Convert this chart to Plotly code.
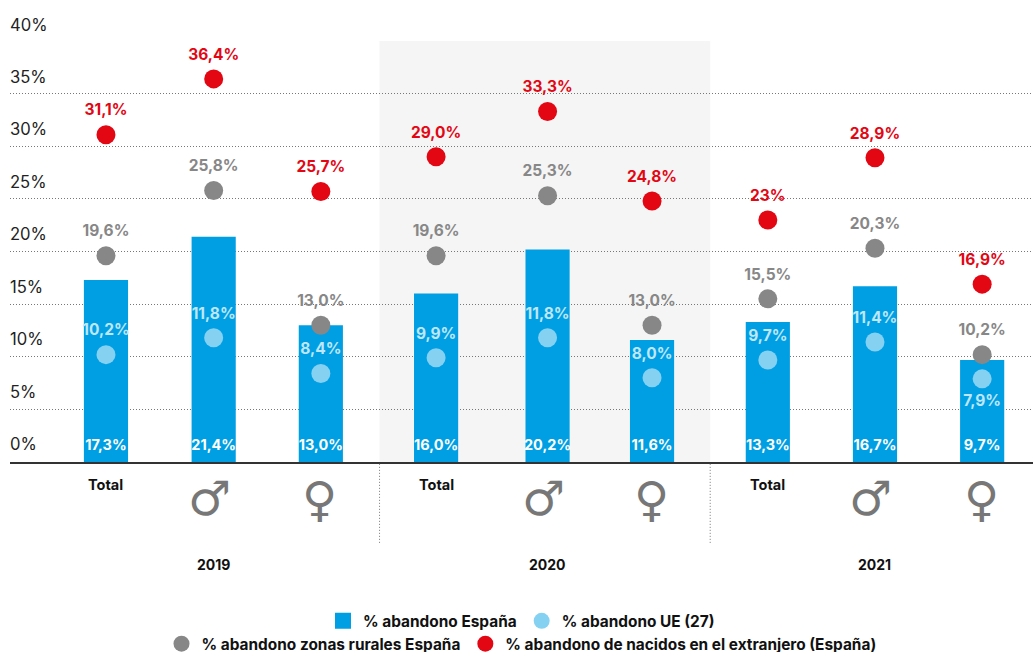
import plotly.graph_objects as go

CATS = ["Total", "♂", "♀"] * 3
YEARS = ["2019", "2020", "2021"]
ESPANA = [17.3, 21.4, 13.0, 16.0, 20.2, 11.6, 13.3, 16.7, 9.7]
UE = [10.2, 11.8, 8.4, 9.9, 11.8, 8.0, 9.7, 11.4, 7.9]
RURAL = [19.6, 25.8, 13.0, 19.6, 25.3, 13.0, 15.5, 20.3, 10.2]
EXTRANJERO = [31.1, 36.4, 25.7, 29.0, 33.3, 24.8, 23.0, 28.9, 16.9]
EXTRANJERO_LABELS = ["31,1%", "36,4%", "25,7%", "29,0%", "33,3%", "24,8%", "23%", "28,9%", "16,9%"]
YTICKS = [0, 5, 10, 15, 20, 25, 30, 35, 40]

FONT = "Inter, Roboto, sans-serif"
BLUE, LIGHT, GREY, RED = "#009FE3", "#85D1F2", "#878787", "#E30613"
XPOS = [0, 1, 1.995, 3.065, 4.1, 5.07, 6.145, 7.14, 8.135]
GROUP_EDGES = [2.54, 5.61]
CENTERS = [XPOS[1], XPOS[4], XPOS[7]]


def fmt(v):
    return f"{v:.1f}".replace(".", ",") + "%"


def labels_only(values, labels, font_color, size, gap, positions="top center"):
    # transparent markers set the distance between the point and its label
    fig.add_trace(go.Scatter(
        x=XPOS, y=values, mode="markers+text", showlegend=False, hoverinfo="skip",
        marker=dict(color="rgba(0,0,0,0)", size=gap, line_width=0),
        text=labels, textposition=positions,
        textfont=dict(family=FONT, size=size, color=font_color, weight="bold"),
        cliponaxis=False,
    ))


def points(name, values, color, labels, font_color, legend, positions="top center"):
    fig.add_trace(go.Scatter(
        x=XPOS, y=values, name=name, mode="markers",
        marker=dict(color=color, size=19, line_width=0),
        cliponaxis=False, legend=legend,
    ))
    labels_only(values, labels, font_color, 15.5, 23, positions)


fig = go.Figure()
fig.add_trace(go.Bar(
    x=XPOS, y=ESPANA, width=0.41, marker_color=BLUE, marker_line_width=0,
    showlegend=False,
))
fig.add_trace(go.Scatter(
    x=[None], y=[None], name="% abandono España", mode="markers",
    marker=dict(color=BLUE, symbol="square", size=16), legend="legend",
))
points("% abandono UE (27)", UE, LIGHT, [fmt(v) for v in UE], "#BFE7F9", "legend",
       ["top center"] * 8 + ["bottom center"])
points("% abandono zonas rurales España", RURAL, GREY, [fmt(v) for v in RURAL], GREY, "legend2")
points("% abandono de nacidos en el extranjero (España)", EXTRANJERO, RED, EXTRANJERO_LABELS, RED, "legend2")
labels_only([0] * len(ESPANA), [fmt(v) for v in ESPANA], "white", 14.5, 12)

shapes = [dict(type="rect", xref="x", yref="paper", x0=GROUP_EDGES[0], x1=GROUP_EDGES[1], y0=0, y1=1,
               fillcolor="#F5F5F5", line_width=0, layer="below")]
for e in GROUP_EDGES:
    shapes.append(dict(type="line", xref="x", yref="paper", x0=e, x1=e, y0=-0.192, y1=0,
                       line=dict(color="#777777", width=1, dash="1px,2px")))

ann = []
for v in YTICKS:
    ann.append(dict(x=0, y=v, xref="paper", yref="y", text=f"{v}%", showarrow=False,
                    xanchor="left", yanchor="middle", xshift=-2, yshift=18 - 0.04 * v,
                    font=dict(family=FONT, size=16.6, color="#222222")))
for x, c in zip(XPOS, CATS):
    if c == "Total":
        ann.append(dict(x=x, y=-0.053, xref="x", yref="paper", text=c, showarrow=False, yanchor="middle",
                        font=dict(family=FONT, size=14.5, color="#111111", weight="bold")))
    else:
        ann.append(dict(x=x, y=-0.09, xref="x", yref="paper", text=c, showarrow=False, yanchor="middle",
                        xshift=-4 if c == "♂" else -1, yshift=2 if c == "♂" else 1,
                        font=dict(family="DejaVu Sans", size=48, color="#777777")))
for x, yr in zip(CENTERS, YEARS):
    ann.append(dict(x=x, y=-0.243, xref="x", yref="paper", text=yr, showarrow=False, yanchor="middle",
                    font=dict(family=FONT, size=14, color="#111111", weight="bold")))
legend_common = dict(orientation="h", xref="paper", yref="container", xanchor="center", yanchor="middle",
                     font=dict(family=FONT, size=15.4, color="#111111", weight="bold"),
                     bgcolor="rgba(0,0,0,0)", itemclick=False, itemdoubleclick=False,
                     itemwidth=30, tracegroupgap=0)

fig.update_layout(
    width=1033, height=652, autosize=False,
    margin=dict(l=10, r=0, t=40.5, b=190),
    paper_bgcolor="white", plot_bgcolor="rgba(0,0,0,0)",
    barmode="overlay", showlegend=True,
    xaxis=dict(range=[-0.891, 8.607], showticklabels=False, showgrid=False, zeroline=False, fixedrange=True,
               showline=True, linecolor="#333333", linewidth=2),
    yaxis=dict(range=[0, 40], tickvals=YTICKS, showticklabels=False,
               showgrid=True, gridcolor="#777777", griddash="1px,2px", gridwidth=1,
               zeroline=False, showline=False, ticks=""),
    shapes=shapes, annotations=ann,
    legend=dict(x=0.5, y=0.047, **legend_common),
    legend2=dict(x=0.5, y=0.012, **legend_common),
)
fig.write_html("out.html", post_script="document.body.style.margin='0';",
               config={"displayModeBar": False})
